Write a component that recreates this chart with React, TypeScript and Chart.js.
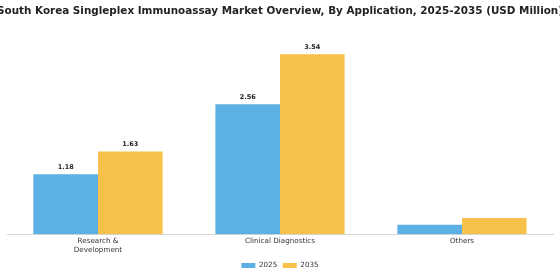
import React, { useEffect, useRef } from "react";
import { Chart, registerables } from "chart.js";

Chart.register(...registerables);

const categories: (string | string[])[] = [["Research &", "Development"], "Clinical Diagnostics", "Others"];
const values2025 = [1.18, 2.56, 0.19];
const values2035 = [1.63, 3.54, 0.32];
const showLabels = [true, true, false];
const seriesNames = ["2025", "2035"];
const titleText = "South Korea Singleplex Immunoassay Market Overview, By Application, 2025-2035 (USD Million)";

const titlePlugin = {
  id: "overflowTitle",
  afterDraw(chart: any) {
    const ctx = chart.ctx;
    ctx.save();
    ctx.font = "bold 11px 'DejaVu Sans'";
    ctx.fillStyle = "#222";
    ctx.textAlign = "center";
    ctx.textBaseline = "middle";
    ctx.fillText(titleText, chart.width / 2, 11, chart.width + 6);
    ctx.restore();
  },
};

const valueLabelPlugin = {
  id: "valueLabels",
  afterDatasetsDraw(chart: any) {
    const ctx = chart.ctx;
    ctx.save();
    ctx.font = "bold 6.5px 'DejaVu Sans'";
    ctx.fillStyle = "#222";
    ctx.textAlign = "center";
    ctx.textBaseline = "bottom";
    chart.data.datasets.forEach((ds: any, di: number) => {
      const meta = chart.getDatasetMeta(di);
      meta.data.forEach((bar: any, i: number) => {
        if (!showLabels[i]) return;
        ctx.fillText(Number(ds.data[i]).toFixed(2), bar.x, bar.y - 4);
      });
    });
    ctx.restore();
  },
};

export default function App() {
  const ref = useRef<HTMLCanvasElement>(null);
  useEffect(() => {
    if (!ref.current) return;
    const chart = new Chart(ref.current, {
      type: "bar",
      data: {
        labels: categories,
        datasets: [
          { label: seriesNames[0], data: values2025, backgroundColor: "#5DB0E4" },
          { label: seriesNames[1], data: values2035, backgroundColor: "#F8C24A" },
        ],
      },
      options: {
        animation: false,
        responsive: true,
        maintainAspectRatio: false,
        layout: { padding: { left: 7, right: 7, top: 36, bottom: 1 } },
        datasets: { bar: { categoryPercentage: 0.71, barPercentage: 1.0 } },
        scales: {
          x: {
            grid: { display: false, drawTicks: false },
            border: { display: true, color: "#d5d5d5" },
            ticks: { font: { size: 7.2, family: "'DejaVu Sans'", lineHeight: 1.25 }, color: "#333", padding: 2, maxRotation: 0 },
          },
          y: { display: false, min: 0, max: 3.9 },
        },
        plugins: {
          title: { display: false },
          legend: {
            position: "bottom",
            labels: { boxWidth: 14, boxHeight: 5, font: { size: 7.2, family: "'DejaVu Sans'" }, color: "#333", padding: 5.5 },
          },
          tooltip: { enabled: false },
        },
      },
      plugins: [valueLabelPlugin, titlePlugin],
    });
    return () => chart.destroy();
  }, []);
  return (
    <div style={{ position: "absolute", left: 0, top: 0, width: 560, height: 280, background: "#fff" }}>
      <canvas ref={ref} />
    </div>
  );
}
